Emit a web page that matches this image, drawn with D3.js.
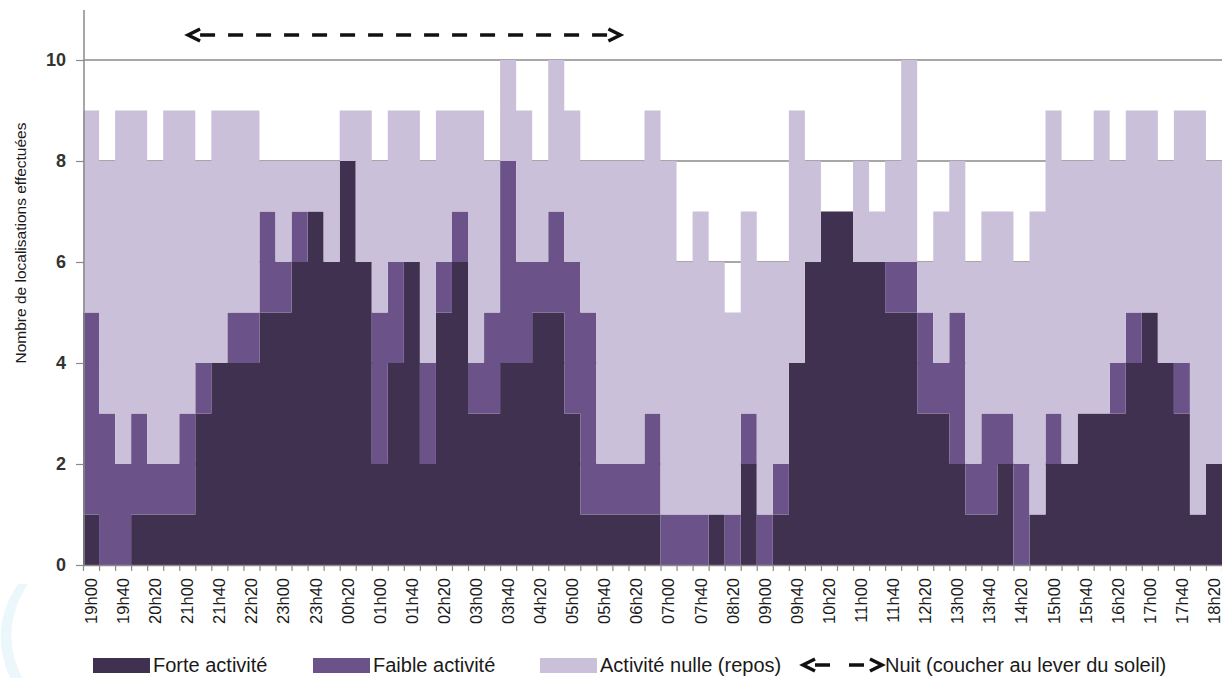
<!DOCTYPE html>
<html>
<head>
<meta charset="utf-8">
<script src="https://cdn.jsdelivr.net/npm/d3@7"></script>
<style>
  body { margin: 0; background: #fff; }
  svg text { font-family: "Liberation Sans", Arial, sans-serif; fill: #1a1a1a; }
</style>
</head>
<body>
<div class="chart"></div>
<script>
// 20 minute slots, 19h00 -> 18h20
var times = [
  "19h00","19h20","19h40","20h00","20h20","20h40","21h00","21h20","21h40","22h00","22h20","22h40",
  "23h00","23h20","23h40","00h00","00h20","00h40","01h00","01h20","01h40","02h00","02h20","02h40",
  "03h00","03h20","03h40","04h00","04h20","04h40","05h00","05h20","05h40","06h00","06h20","06h40",
  "07h00","07h20","07h40","08h00","08h20","08h40","09h00","09h20","09h40","10h00","10h20","10h40",
  "11h00","11h20","11h40","12h00","12h20","12h40","13h00","13h20","13h40","14h00","14h20","14h40",
  "15h00","15h20","15h40","16h00","16h20","16h40","17h00","17h20","17h40","18h00","18h20"
];
var forte = [
  1,0,0,1,1,1,1,3,4,4,4,5,
  5,6,7,6,8,6,2,4,6,2,5,6,
  3,3,4,4,5,5,3,1,1,1,1,1,
  0,0,0,1,0,2,0,1,4,6,7,7,
  6,6,5,5,3,3,2,1,1,2,0,1,
  2,2,3,3,3,4,5,4,3,1,2
];
var faible = [
  4,3,2,2,1,1,2,1,0,1,1,2,
  1,1,0,0,0,0,3,2,0,2,1,1,
  1,2,4,2,1,2,3,4,1,1,1,2,
  1,1,1,0,1,1,1,1,0,0,0,0,
  0,0,1,1,2,1,3,1,2,1,2,0,
  1,0,0,0,1,1,0,0,1,0,0
];
var nulle = [
  4,5,7,6,6,7,6,4,5,4,4,1,
  2,1,1,2,1,3,3,3,3,4,3,2,
  5,3,2,3,2,3,3,3,6,6,6,6,
  7,5,6,5,4,4,5,4,5,2,0,0,
  2,1,2,4,1,3,3,4,4,4,4,6,
  6,6,5,6,4,4,4,4,5,8,6
];
var yTicks = [0,2,4,6,8,10];
var seriesKeys   = ["forte","faible","nulle"];
var seriesNames  = ["Forte activité","Faible activité","Activité nulle (repos)"];
var seriesColors = ["#403150","#6b5389","#cbc0da"];
var nuit = [6.55, 33.5];   // coucher / lever du soleil, in slots from 19h00
var nuitLabel = "Nuit (coucher au lever du soleil)";
var yTitle = "Nombre de localisations effectuées";

var W = 1222, H = 678;
var left = 83, right = 1222, top0 = 60, base = 565;
var axisGrey = "#8a8a8a";
var legendX = [93, 313, 540, 803];

var rows = times.map(function(t, i){
  return {time: t, forte: forte[i], faible: faible[i], nulle: nulle[i]};
});

var svg = d3.select(".chart").append("svg")
  .attr("width", W)
  .attr("height", H);

// faint blue mark in the bottom left corner
svg.append("path")
  .attr("d", "M28,584 Q-2,630 22,678 L10,678 Q-12,628 18,584 Z")
  .style("fill", "#ecf7fc");

var x = d3.scaleLinear().domain([0, times.length]).range([left, right]);
var band = d3.scaleBand().domain(times).range([left, right]).padding(0);
var y = d3.scaleLinear().domain([0, 10]).range([base, top0]);

// gridlines behind everything
svg.append("g")
  .selectAll("line")
  .data(yTicks.filter(function(v){ return v > 0; }))
  .enter()
  .append("line")
  .attr("x1", left + 1)
  .attr("x2", right)
  .attr("y1", function(v){ return y(v); })
  .attr("y2", function(v){ return y(v); })
  .style("stroke", axisGrey)
  .style("stroke-width", 1.5);

var layers = d3.stack().keys(seriesKeys)(rows);

var area = d3.area()
  .curve(d3.curveStepAfter)
  .x(function(d, i){ return x(i); })
  .y0(function(d){ return y(d[0]); })
  .y1(function(d){ return y(d[1]); });

svg.append("g")
  .selectAll("path")
  .data(layers)
  .enter()
  .append("path")
  .attr("d", function(layer){
    // repeat last slot so the step closes at the right edge
    return area(layer.concat([layer[layer.length - 1]]));
  })
  .style("fill", function(d, i){ return seriesColors[i]; });

// x axis: ticks between categories, labels on every other slot
var xTickAxis = svg.append("g")
  .attr("transform", "translate(0," + base + ")")
  .call(d3.axisBottom(x).tickValues(d3.range(times.length + 1)).tickSize(6).tickSizeOuter(0).tickFormat(""));
xTickAxis.select(".domain").style("stroke", axisGrey).style("stroke-width", 1.5);
xTickAxis.selectAll(".tick line").style("stroke", axisGrey).style("stroke-width", 1.2);

var xLabels = svg.append("g")
  .attr("transform", "translate(0," + base + ")")
  .call(d3.axisBottom(band)
    .tickValues(times.filter(function(t, i){ return i % 2 === 0; }))
    .tickSize(0));
xLabels.select(".domain").remove();
xLabels.selectAll("text")
  .attr("transform", "rotate(-90)")
  .attr("text-anchor", "end")
  .attr("x", -13)
  .attr("y", 0)
  .attr("dy", "0.36em")
  .style("font-size", "16.5px")
  .style("font-family", "'Liberation Sans', Arial, sans-serif")
  .style("fill", "#1a1a1a");

// y axis
svg.append("line")
  .attr("x1", left + 1).attr("x2", left + 1)
  .attr("y1", 10).attr("y2", base)
  .style("stroke", axisGrey)
  .style("stroke-width", 1.5);

var yAxis = svg.append("g")
  .attr("transform", "translate(" + (left + 1) + ",0)")
  .call(d3.axisLeft(y).tickValues(yTicks).tickSize(8).tickPadding(10).tickSizeOuter(0));
yAxis.select(".domain").remove();
yAxis.selectAll(".tick line").style("stroke", axisGrey).style("stroke-width", 1.2);
yAxis.selectAll("text")
  .style("font-size", "18px")
  .style("font-weight", "bold")
  .style("font-family", "'Liberation Sans', Arial, sans-serif")
  .style("fill", "#333");

svg.append("text")
  .attr("transform", "translate(26,243) rotate(-90)")
  .attr("text-anchor", "middle")
  .style("font-size", "15.5px")
  .text(yTitle);

// night arrow above the plot
function drawArrow(g, x1, x2, yy, dash, head){
  g.append("line")
    .attr("x1", x1 + head).attr("x2", x2 - head)
    .attr("y1", yy).attr("y2", yy)
    .style("stroke", "#111")
    .style("stroke-width", 3.5)
    .style("stroke-dasharray", dash);
  g.append("path")
    .attr("d", "M" + (x1 + head) + "," + (yy - 6) + "L" + x1 + "," + yy + "L" + (x1 + head) + "," + (yy + 6))
    .style("fill", "none").style("stroke", "#111").style("stroke-width", 3.5)
    .style("stroke-linejoin", "miter");
  g.append("path")
    .attr("d", "M" + (x2 - head) + "," + (yy - 6) + "L" + x2 + "," + yy + "L" + (x2 - head) + "," + (yy + 6))
    .style("fill", "none").style("stroke", "#111").style("stroke-width", 3.5)
    .style("stroke-linejoin", "miter");
}
drawArrow(svg.append("g"), x(nuit[0]), x(nuit[1]), 35, "15,13", 12);

// legend
var legend = svg.append("g").attr("transform", "translate(0,665)");
seriesNames.forEach(function(name, i){
  legend.append("rect")
    .attr("x", legendX[i]).attr("y", -7)
    .attr("width", 57).attr("height", 15)
    .style("fill", seriesColors[i]);
  legend.append("text")
    .attr("x", legendX[i] + 60).attr("y", 0)
    .attr("dy", "0.35em")
    .style("font-size", "20px")
    .text(name);
});
drawArrow(legend.append("g"), legendX[3], legendX[3] + 79, 0, "15,19", 12);
legend.append("text")
  .attr("x", legendX[3] + 82).attr("y", 0)
  .attr("dy", "0.35em")
  .style("font-size", "20px")
  .text(nuitLabel);
</script>
</body>
</html>
